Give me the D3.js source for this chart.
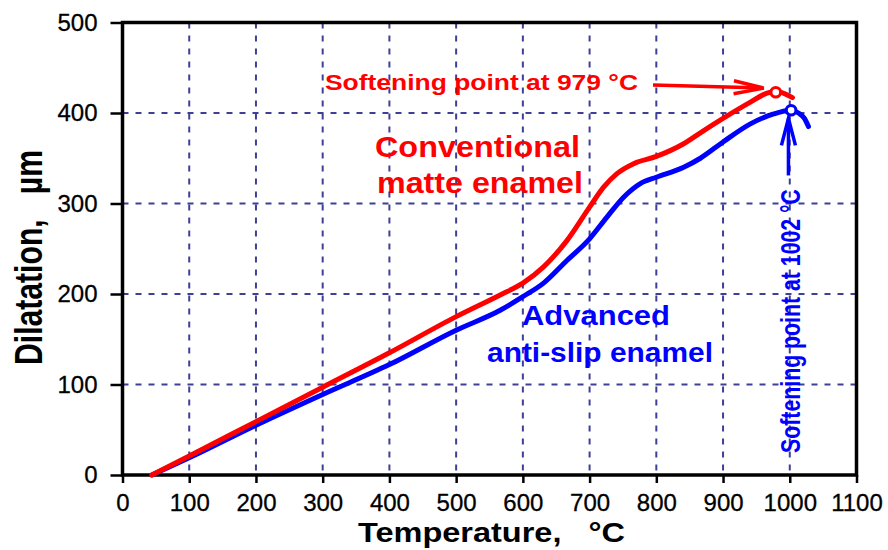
<!DOCTYPE html>
<html>
<head>
<meta charset="utf-8">
<script src="https://cdn.jsdelivr.net/npm/d3@7"></script>
<style>
  html, body { margin: 0; padding: 0; background: #fff; }
  svg { display: block; font-family: Arial, "Liberation Sans", sans-serif; }
  text { white-space: pre; }
</style>
</head>
<body>
<svg id="chart" width="888" height="550"></svg>
<script>
// ---- data ----
const xTicks = [0, 100, 200, 300, 400, 500, 600, 700, 800, 900, 1000, 1100];
const yTicks = [0, 100, 200, 300, 400, 500];

const conventionalT = [44, 100, 200, 300, 400, 500, 566, 600, 631, 666, 700, 721, 741, 766, 800, 841, 870, 900, 941, 966, 979, 1004];
const conventionalD = [0, 21, 59, 97, 135, 175, 199, 212, 230, 259, 296, 318, 333, 344, 352, 366, 380, 394, 412, 422, 424, 417];

const advancedT = [44, 100, 200, 300, 400, 500, 566, 600, 631, 666, 700, 726, 751, 776, 800, 841, 866, 900, 941, 976, 1002, 1013, 1022, 1028];
const advancedD = [0, 19, 55, 89, 122, 160, 182, 197, 212, 237, 261, 285, 307, 322, 329, 340, 350, 368, 388, 399, 403, 400, 394, 385];

const softeningConventional = [979, 423];
const softeningAdvanced = [1002, 403];

// ---- layout ----
const svg = d3.select("#chart");
const x = d3.scaleLinear().domain([0, 1100]).range([122.5, 856.5]);
const y = d3.scaleLinear().domain([0, 500]).range([475, 22.5]);

const gridColor = "#3f3f96";
const red = "#ff0000";
const blue = "#0000ff";

// grid
const grid = svg.append("g").attr("stroke", gridColor).attr("stroke-width", 2).attr("stroke-dasharray", "6,7");
grid.selectAll("line.v").data(xTicks.filter(d => d > 0 && d < 1100)).enter().append("line")
  .attr("x1", d => x(d)).attr("x2", d => x(d)).attr("y1", y(500)).attr("y2", y(0));
grid.selectAll("line.h").data(yTicks.filter(d => d > 0 && d < 500)).enter().append("line")
  .attr("y1", d => y(d)).attr("y2", d => y(d)).attr("x1", x(0)).attr("x2", x(1100));

// axes
const fmt = d3.format("d");
const yAxis = svg.append("g").attr("transform", `translate(${x(0)},0)`)
  .call(d3.axisLeft(y).tickValues(yTicks).tickFormat(fmt).tickSize(12).tickPadding(13));
const xAxis = svg.append("g").attr("transform", `translate(0,${y(0)})`)
  .call(d3.axisBottom(x).tickValues(xTicks).tickFormat(fmt).tickSize(8).tickPadding(11));
[xAxis, yAxis].forEach(a => {
  a.select(".domain").remove();
  a.selectAll(".tick line").attr("stroke", "#000").attr("stroke-width", 2.5);
  a.selectAll(".tick text").attr("fill", "#000").style("font-size", "24px")
    .attr("stroke", "#000").attr("stroke-width", 0.3);
});

// frame
svg.append("rect").attr("x", x(0)).attr("y", y(500)).attr("width", x(1100) - x(0)).attr("height", y(0) - y(500))
  .attr("fill", "none").attr("stroke", "#000").attr("stroke-width", 3.5);

// curves
const line = d3.line().x(d => x(d[0])).y(d => y(d[1])).curve(d3.curveMonotoneX);
const advData = advancedT.map((t, i) => [t, advancedD[i]]);
const convData = conventionalT.map((t, i) => [t, conventionalD[i]]);
svg.append("path").attr("d", line(advData)).attr("fill", "none").attr("stroke", blue)
  .attr("stroke-width", 5).attr("stroke-linecap", "round").attr("stroke-linejoin", "round");
svg.append("path").attr("d", line(convData)).attr("fill", "none").attr("stroke", red)
  .attr("stroke-width", 5).attr("stroke-linecap", "round").attr("stroke-linejoin", "round");

// softening markers
[[softeningConventional, red], [softeningAdvanced, blue]].forEach(([p, c]) => {
  svg.append("circle").attr("cx", x(p[0])).attr("cy", y(p[1])).attr("r", 4.8)
    .attr("fill", "#fff").attr("stroke", c).attr("stroke-width", 3);
});

// arrows
function arrow(from, to, color, headLen, headHalf) {
  const x1 = x(from[0]), y1 = y(from[1]), x2 = x(to[0]), y2 = y(to[1]);
  const a = Math.atan2(y2 - y1, x2 - x1);
  const bx = x2 - headLen * Math.cos(a), by = y2 - headLen * Math.sin(a);
  const px = -Math.sin(a) * headHalf, py = Math.cos(a) * headHalf;
  svg.append("line").attr("x1", x1).attr("y1", y1).attr("x2", x2).attr("y2", y2)
    .attr("stroke", color).attr("stroke-width", 3.5);
  svg.append("path").attr("d", `M${bx + px},${by + py}L${x2},${y2}L${bx - px},${by - py}`)
    .attr("fill", "none").attr("stroke", color).attr("stroke-width", 3.5).attr("stroke-linejoin", "miter");
}
arrow([795, 431], [961, 427.5], red, 30, 6.5);
arrow([998, 331], [998, 394], blue, 27, 7);

// text labels
function label(txt, xx, yy, size, len, color, anchor) {
  return svg.append("text").attr("x", xx).attr("y", yy).attr("fill", color)
    .attr("font-weight", "bold").style("font-size", size + "px")
    .attr("text-anchor", anchor || "start")
    .attr("textLength", len).attr("lengthAdjust", "spacingAndGlyphs").text(txt);
}
label("Softening point at 979 °C", 325, 90, 22, 313, red);
label("Conventional", 375, 157, 29, 205, red);
label("matte enamel", 377, 193, 29, 206, red);
label("Advanced", 522, 325, 28, 148, blue);
label("anti-slip enamel", 487, 362, 28, 226, blue);
label("Temperature,   °C", 358, 542, 28, 267, "#000");

// rotated labels
svg.append("text").attr("transform", "translate(800,453) scale(1.3,1) rotate(-90)")
  .attr("fill", blue).attr("font-weight", "bold").style("font-size", "21.5px")
  .attr("textLength", 264).attr("lengthAdjust", "spacingAndGlyphs")
  .text("Softening point at 1002 °C");
svg.append("text").attr("transform", "translate(42,365) scale(1.3,1) rotate(-90)")
  .attr("fill", "#000").attr("font-weight", "bold").style("font-size", "30px")
  .attr("textLength", 215).attr("lengthAdjust", "spacingAndGlyphs")
  .text("Dilatation,   µm");
</script>
</body>
</html>
